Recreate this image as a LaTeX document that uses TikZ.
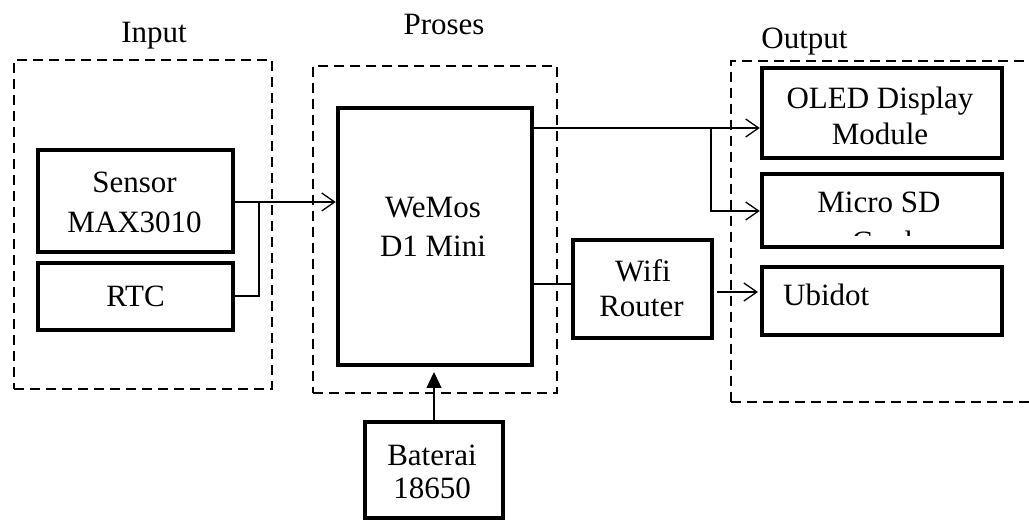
\documentclass[tikz,border=0pt]{standalone}
\usepackage{fontspec}
\setmainfont{Liberation Serif}
\usetikzlibrary{arrows.meta}
\begin{document}
\begin{tikzpicture}[x=1pt,y=-1pt,
  blk/.style={draw, line width=4.5pt, rectangle, inner sep=0pt, outer sep=0pt},
  grp/.style={draw, line width=1.4pt, dash pattern=on 10pt off 6pt, rectangle, inner sep=0pt, outer sep=0pt},
  lbl/.style={anchor=base, inner sep=0pt, font=\fontsize{31}{37}\selectfont},
  conn/.style={line width=1.3pt},
  arr/.style={conn, -{Straight Barb[length=13pt,width=18pt]}},
  farr/.style={conn, -{Triangle[length=16pt,width=15pt]}}]
\clip (0,0) rectangle (1029,521);
\fill[white] (0,0) rectangle (1029,521);
% group frames
\node[grp, minimum width=258pt, minimum height=329pt] (inp) at (143,224.5) {};
\node[grp, minimum width=244pt, minimum height=327pt] (pro) at (435,229.5) {};
\node[grp, minimum width=320pt, minimum height=341pt] (out) at (891,231.5) {};
\node[lbl] (inpT) at (154,43) {Input};
\node[lbl] (proT) at (444,35) {Proses};
\node[lbl] (outT) at (804.5,49) {Output};
% blocks
\node[blk, minimum width=195pt, minimum height=102pt] (sensor) at (135.5,201) {};
\node[blk, minimum width=195pt, minimum height=67pt] (rtc) at (135.5,296.5) {};
\node[blk, minimum width=194pt, minimum height=257pt] (wemos) at (435,236.5) {};
\node[blk, minimum width=139pt, minimum height=98pt] (wifi) at (642.5,289) {};
\node[blk, minimum width=240pt, minimum height=90pt] (oled) at (882,113) {};
\node[blk, minimum width=240pt, minimum height=73pt] (sd) at (882,210.5) {};
\node[blk, minimum width=240pt, minimum height=68pt] (ubi) at (882,301) {};
\node[blk, minimum width=138pt, minimum height=96pt] (bat) at (434,470) {};
% texts
\node[lbl] (sensorT1) at (134.5,193) {Sensor};
\node[lbl] (sensorT2) at (134.5,233) {MAX3010};
\node[lbl] (rtcT) at (135.5,307) {RTC};
\node[lbl] (wemosT1) at (433,218) {WeMos};
\node[lbl] (wemosT2) at (433,257) {D1 Mini};
\node[lbl] (wifiT1) at (643,282) {Wifi};
\node[lbl] (wifiT2) at (641.5,317) {Router};
\node[lbl] (oledT1) at (880,109) {OLED Display};
\node[lbl] (oledT2) at (880,145) {Module};
\node[lbl] (sdT1) at (879,213) {Micro SD};
\begin{scope}
\clip (765,228) rectangle (1000,236);
\node[lbl] (sdT2) at (882,253) {Card};
\end{scope}
\node[lbl, anchor=base west] (ubiT) at (783,306) {Ubidot};
\node[lbl] (batT1) at (432,465) {Baterai};
\node[lbl] (batT2) at (432,498) {18650};
% connector coordinates
\coordinate (ys) at (0,202);
\coordinate (yr) at (0,296);
\coordinate (jr) at (259,202);
\coordinate (yo) at (0,128);
\coordinate (jo) at (711,128);
\coordinate (yd) at (0,211);
\coordinate (yw) at (0,284);
\coordinate (yu) at (0,292);
\coordinate (yb) at (0,372);
% connectors
\draw[arr, shorten >=2.2pt] (sensor.east |- ys) -- (wemos.west |- ys);
\draw[conn] (rtc.east |- yr) -- (jr |- yr) -- (jr);
\draw[arr, shorten >=2.2pt] (wemos.east |- yo) -- (oled.west |- yo);
\draw[arr, shorten >=2.2pt] (jo) -- (jo |- yd) -- (sd.west |- yd);
\draw[conn] (wemos.east |- yw) -- (wifi.west |- yw);
\draw[arr, shorten <=5pt, shorten >=4pt] (wifi.east |- yu) -- (ubi.west |- yu);
\draw[farr] (bat.north) -- (bat.north |- yb);
\end{tikzpicture}
\end{document}
